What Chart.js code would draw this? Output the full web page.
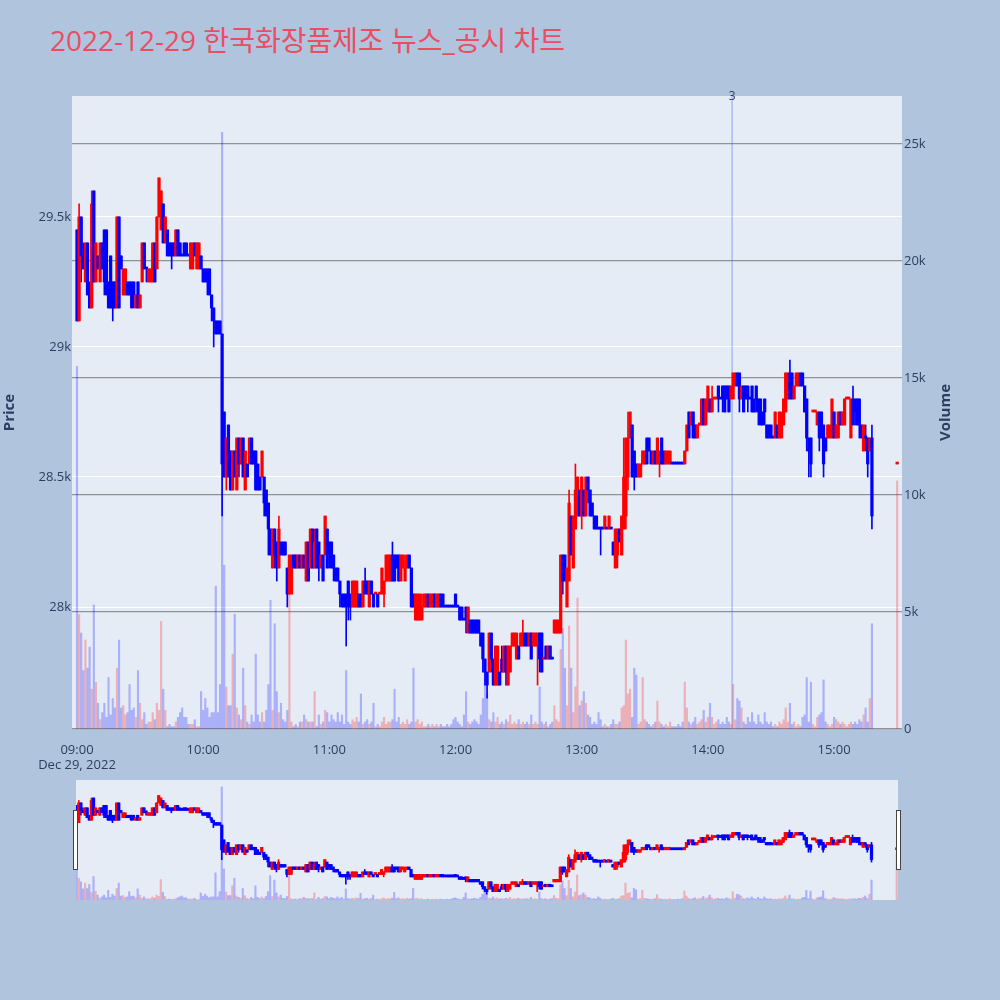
<!DOCTYPE html>
<html lang="ko">
<head>
<meta charset="utf-8">
<title>한국화장품제조 뉴스_공시 차트</title>
<script src="https://cdn.jsdelivr.net/npm/chart.js@4.4.0/dist/chart.umd.min.js"></script>
<style>
    body { margin: 0; width: 1000px; height: 1000px; background: #b0c4de; position: relative; overflow: hidden; font-family: "Open Sans", "Noto Sans CJK KR", sans-serif; }
    #chartTitle { position: absolute; left: 50px; top: 23px; font-size: 28px; line-height: 34px; color: rgb(233, 78, 98); white-space: nowrap; }
    #priceChart { position: absolute; left: 0; top: 0; }
    #sliderChart { position: absolute; left: 76px; top: 780px; }
    .handle { position: absolute; top: 810px; width: 3px; height: 58px; background: #fff; border: 1px solid #444; }
</style>
</head>
<body>
<div id="chartTitle">2022-12-29 한국화장품제조 뉴스_공시 차트</div>
<canvas id="priceChart" width="1000" height="775"></canvas>
<canvas id="sliderChart" width="822" height="120"></canvas>
<div class="handle" style="left:73px"></div>
<div class="handle" style="left:896px"></div>
<script>
// ==================================================================
// 1. DADOS (1분봉, 09:00 부터 연속, 마지막 값은 15:30 동시호가)
// ==================================================================
const opens = [
    29450,29100,29500,29350,29250,29400,29200,29150,29600,29250,
    29350,29250,29400,29450,29450,29250,29350,29250,29250,29150,
    29500,29350,29200,29200,29250,29250,29250,29250,29150,29250,
    29150,29250,29400,29300,29250,29250,29250,29400,29300,29500,
    29450,29550,29400,29450,29400,29400,29400,29350,29450,29400,
    29350,29400,29400,29350,29300,29300,29400,29300,29300,29350,
    29300,29300,29300,29300,29200,29150,29100,29100,29100,29050,
    28750,28500,28700,28600,28450,28600,28450,28650,28550,28650,
    28450,28550,28550,28650,28600,28600,28550,28500,28500,28500,
    28450,28400,28300,28150,28300,28250,28150,28250,28250,28250,
    28150,28050,28050,28200,28200,28150,28200,28150,28200,28100,
    28250,28150,28300,28150,28300,28250,28150,28200,28200,28300,
    28250,28250,28200,28150,28150,28100,28050,28050,28050,28100,
    28050,28000,28000,28000,28050,28050,28000,28100,28100,28000,
    28100,28050,28050,28050,28050,28050,28050,28100,28100,28100,
    28200,28200,28200,28200,28100,28150,28100,28150,28200,28150,
    28050,27950,27950,27950,27950,28000,28000,28050,28000,28000,
    28050,28000,28000,28050,28050,28000,28000,28000,28000,28000,
    28050,28000,28000,28000,27950,28000,27900,27950,27950,27950,
    27950,27950,27900,27900,27800,27750,27750,27900,27800,27700,
    27700,27750,27800,27750,27850,27700,27750,27850,27850,27800,
    27850,27850,27850,27900,27900,27850,27900,27850,27850,27850,
    27900,27900,27800,27850,27800,27850,27800,27900,27900,27900,
    27900,28200,28200,28000,28100,28350,28150,28300,28350,28450,
    28350,28450,28350,28500,28450,28400,28350,28350,28300,28300,
    28300,28300,28300,28300,28300,28250,28150,28200,28300,28200,
    28300,28350,28500,28650,28700,28600,28550,28500,28500,28550,
    28550,28650,28650,28600,28550,28600,28550,28550,28650,28600,
    28550,28550,28550,28550,28550,28550,28550,28550,28550,28550,
    28600,28750,28700,28750,28700,28650,28700,28700,28800,28700,
    28750,28800,28750,28800,28800,28850,28800,28850,28850,28850,
    28850,28800,28800,28850,28900,28900,28800,28850,28850,28850,
    28800,28850,28800,28850,28800,28800,28750,28800,28700,28700,
    28700,28650,28650,28700,28650,28650,28700,28750,28800,28900,
    28900,28800,28850,28850,28900,28900,28850,28800,28650,28650,
    28750,28750,28700,28750,28750,28700,28650,28650,28650,28650,
    28750,28650,28650,28750,28700,28700,28800,28800,28650,28800,
    28800,28800,28800,28700,28600,28650,28650,28600,28650,
    28550
];
const highs = [
    29450,29550,29500,29400,29400,29400,29250,29600,29600,29400,
    29350,29400,29400,29450,29450,29250,29350,29250,29250,29500,
    29500,29350,29300,29300,29250,29250,29250,29250,29200,29250,
    29200,29400,29400,29300,29300,29300,29400,29400,29500,29650,
    29600,29550,29500,29450,29400,29400,29400,29450,29450,29400,
    29350,29400,29400,29350,29400,29400,29400,29400,29400,29350,
    29300,29300,29300,29300,29200,29150,29100,29100,29100,29050,
    28750,28650,28700,28600,28600,28600,28650,28650,28650,28650,
    28600,28550,28650,28650,28600,28600,28550,28500,28600,28500,
    28450,28400,28300,28300,28300,28250,28350,28250,28250,28250,
    28150,28200,28200,28200,28200,28200,28200,28200,28200,28250,
    28250,28300,28300,28300,28300,28250,28200,28200,28350,28300,
    28250,28250,28200,28150,28150,28100,28050,28050,28050,28100,
    28050,28100,28100,28100,28050,28050,28100,28150,28100,28100,
    28100,28050,28050,28050,28050,28150,28100,28200,28200,28200,
    28250,28200,28200,28200,28200,28200,28200,28200,28200,28150,
    28050,28050,28050,28050,28050,28050,28050,28050,28050,28050,
    28050,28050,28050,28050,28050,28000,28000,28000,28000,28000,
    28050,28000,28000,28000,27950,28000,28000,27950,27950,27950,
    27950,27950,27900,27900,27800,27750,27900,27900,27800,27850,
    27850,27750,27850,27850,27850,27850,27850,27900,27900,27900,
    27850,27900,27950,27900,27900,27900,27900,27900,27900,27900,
    27900,27900,27800,27850,27850,27850,27800,27950,27950,27950,
    28200,28200,28200,28150,28450,28350,28350,28550,28500,28450,
    28500,28450,28500,28500,28450,28400,28350,28350,28300,28300,
    28300,28350,28300,28350,28300,28250,28300,28300,28300,28350,
    28650,28650,28750,28750,28700,28600,28550,28550,28550,28600,
    28600,28650,28650,28600,28600,28600,28650,28600,28650,28600,
    28600,28600,28600,28550,28550,28550,28550,28550,28550,28600,
    28700,28750,28750,28750,28700,28700,28700,28800,28800,28800,
    28850,28800,28850,28800,28800,28850,28800,28850,28850,28850,
    28850,28850,28900,28900,28900,28900,28850,28850,28850,28850,
    28800,28850,28800,28850,28800,28800,28750,28800,28700,28700,
    28700,28650,28750,28700,28750,28750,28800,28900,28900,28950,
    28900,28850,28900,28900,28900,28900,28850,28800,28650,28650,
    28750,28750,28750,28750,28750,28700,28650,28700,28700,28800,
    28750,28700,28750,28750,28750,28800,28800,28800,28800,28850,
    28800,28800,28800,28700,28700,28700,28650,28650,28700,
    28550
];
const lows = [
    29100,29100,29250,29300,29250,29200,29150,29150,29250,29250,
    29300,29250,29300,29200,29200,29150,29150,29100,29150,29150,
    29150,29300,29200,29200,29200,29200,29150,29150,29150,29150,
    29150,29250,29300,29250,29250,29250,29250,29250,29300,29500,
    29450,29400,29400,29350,29350,29300,29350,29350,29350,29350,
    29350,29350,29350,29350,29300,29300,29350,29300,29300,29300,
    29250,29250,29200,29200,29100,29000,29050,29050,29050,28350,
    28500,28450,28500,28450,28450,28500,28450,28500,28550,28500,
    28450,28500,28550,28550,28550,28450,28450,28450,28500,28350,
    28350,28200,28200,28150,28150,28100,28150,28200,28200,28200,
    28000,28050,28050,28150,28150,28150,28150,28150,28150,28100,
    28100,28150,28150,28150,28150,28100,28150,28100,28200,28150,
    28150,28150,28100,28100,28100,28000,28000,28000,27850,27950,
    27950,28000,28000,28000,28000,28000,28000,28050,28050,28000,
    28050,28000,28050,28000,28050,28050,28000,28100,28100,28100,
    28100,28100,28150,28100,28100,28150,28100,28150,28150,28000,
    28000,27950,27950,27950,27950,28000,28000,28000,28000,28000,
    28000,28000,28000,28000,28000,28000,28000,28000,28000,28000,
    28000,28000,27950,27950,27950,27900,27900,27900,27900,27900,
    27900,27900,27850,27750,27700,27650,27750,27750,27700,27700,
    27700,27700,27750,27750,27700,27700,27750,27850,27850,27800,
    27800,27850,27850,27850,27850,27850,27800,27850,27850,27700,
    27750,27750,27800,27800,27800,27800,27800,27900,27900,27900,
    27900,28050,28100,28000,28100,28200,28150,28300,28350,28350,
    28300,28350,28350,28400,28350,28350,28300,28300,28300,28200,
    28300,28300,28300,28300,28300,28200,28150,28150,28250,28200,
    28300,28300,28450,28650,28500,28450,28500,28500,28500,28550,
    28550,28550,28600,28550,28550,28550,28550,28500,28550,28550,
    28550,28550,28550,28550,28550,28550,28550,28550,28550,28550,
    28600,28650,28700,28650,28650,28650,28700,28700,28700,28700,
    28750,28750,28750,28800,28800,28750,28800,28750,28750,28800,
    28750,28800,28800,28850,28850,28750,28800,28750,28800,28750,
    28800,28750,28750,28750,28700,28700,28700,28700,28650,28650,
    28650,28650,28650,28650,28650,28650,28700,28750,28800,28800,
    28800,28800,28850,28850,28850,28850,28750,28600,28500,28500,
    28750,28750,28700,28600,28650,28500,28600,28650,28650,28650,
    28650,28650,28650,28700,28700,28700,28800,28800,28650,28700,
    28700,28700,28650,28650,28600,28600,28500,28600,28300,
    28550
];
const closes = [
    29100,29500,29350,29300,29400,29200,29150,29550,29250,29400,
    29300,29400,29300,29250,29200,29150,29150,29150,29150,29500,
    29150,29300,29300,29300,29200,29200,29150,29200,29200,29150,
    29200,29400,29300,29300,29300,29300,29400,29250,29500,29650,
    29600,29400,29500,29350,29350,29350,29350,29450,29350,29350,
    29350,29350,29350,29350,29400,29400,29350,29400,29400,29300,
    29250,29250,29250,29200,29150,29100,29050,29050,29050,28550,
    28500,28650,28500,28450,28600,28500,28650,28550,28650,28500,
    28600,28500,28650,28550,28550,28450,28450,28450,28600,28400,
    28350,28300,28200,28300,28200,28150,28300,28200,28200,28200,
    28050,28200,28200,28150,28150,28200,28150,28200,28150,28250,
    28100,28300,28150,28250,28150,28150,28200,28100,28350,28150,
    28200,28150,28150,28100,28100,28050,28000,28000,28000,28000,
    28000,28100,28100,28100,28000,28000,28100,28050,28050,28100,
    28050,28000,28050,28000,28050,28150,28100,28200,28200,28200,
    28100,28100,28150,28100,28200,28200,28150,28200,28150,28000,
    28000,28050,28050,28050,28000,28050,28050,28000,28050,28050,
    28000,28050,28050,28000,28000,28000,28000,28000,28000,28000,
    28000,28000,27950,27950,27950,27950,28000,27900,27900,27900,
    27900,27900,27850,27800,27750,27700,27900,27800,27700,27850,
    27850,27700,27750,27850,27750,27850,27850,27900,27900,27900,
    27800,27900,27900,27850,27850,27900,27800,27900,27900,27900,
    27800,27750,27800,27800,27850,27800,27800,27950,27950,27950,
    28200,28100,28100,28150,28400,28200,28350,28450,28500,28350,
    28500,28350,28500,28450,28350,28350,28300,28300,28300,28300,
    28300,28350,28300,28350,28300,28200,28300,28300,28250,28350,
    28500,28650,28650,28750,28500,28500,28500,28550,28550,28600,
    28600,28550,28600,28550,28600,28550,28650,28600,28550,28550,
    28600,28600,28600,28550,28550,28550,28550,28550,28550,28600,
    28700,28650,28750,28650,28650,28700,28700,28800,28700,28800,
    28850,28750,28800,28800,28800,28800,28800,28800,28750,28800,
    28750,28850,28900,28900,28850,28800,28850,28750,28800,28800,
    28800,28750,28750,28800,28750,28700,28700,28750,28650,28650,
    28650,28650,28750,28650,28750,28700,28800,28900,28900,28800,
    28800,28850,28900,28900,28850,28850,28750,28650,28600,28550,
    28750,28750,28750,28650,28650,28550,28600,28700,28700,28800,
    28650,28700,28750,28700,28750,28800,28800,28800,28800,28700,
    28750,28700,28700,28650,28700,28650,28550,28650,28350,
    28550
];
const volumes = [
    15500,4900,4100,2500,3800,2600,3500,1700,5300,2000,
    1100,400,700,1100,500,2200,600,1300,900,2600,
    3800,900,1000,600,700,1900,800,900,500,2500,
    1100,400,700,200,300,300,700,400,1100,800,
    4600,1700,800,100,200,100,100,300,500,700,
    900,500,500,200,200,200,400,100,100,1600,
    800,1300,900,500,700,700,6100,700,1900,25500,
    7000,1800,1000,1000,3200,4900,900,600,400,2600,
    1000,300,200,600,300,3200,600,300,700,300,
    800,1900,5500,800,4500,1600,700,1100,400,300,
    800,6900,300,100,200,100,300,300,600,400,
    300,300,300,1600,100,600,200,300,800,700,
    300,600,400,300,700,300,600,200,2500,300,
    200,400,300,500,300,1500,200,300,400,200,
    300,1100,100,200,100,300,500,200,300,300,
    400,1700,300,500,200,300,200,400,200,300,
    2600,300,400,200,300,100,100,200,100,200,
    100,200,100,200,100,100,200,100,200,400,
    500,300,200,100,600,1600,300,200,300,400,
    300,200,600,1300,2400,1500,400,300,700,300,
    500,200,300,200,400,300,600,200,300,200,
    400,200,300,200,300,200,600,200,300,200,
    1800,300,200,300,100,200,300,1000,400,300,
    3400,4300,2600,1000,4400,2600,700,1800,5600,1000,
    1200,1600,1100,600,500,200,300,200,700,400,
    100,200,100,100,200,400,200,200,300,900,
    1000,3800,1500,1700,500,2600,2300,200,300,2200,
    400,300,200,100,200,300,1200,300,200,100,
    200,100,300,100,100,100,200,100,300,2000,
    900,300,200,300,500,200,300,400,800,300,
    500,1100,500,200,300,400,200,300,200,500,
    300,200,1900,400,1300,1200,900,300,200,500,
    300,700,300,200,600,300,200,700,300,200,
    300,100,200,100,300,200,400,900,300,1100,
    200,300,100,200,100,500,600,2200,300,2000,
    200,100,500,600,700,2100,300,200,100,200,
    500,400,300,200,300,200,100,200,300,200,
    300,200,400,300,600,900,300,1300,4500,
    10600
];
const auctionMinute = 390;          // 15:30 동시호가 (09:00 기준 분)
const tickMinutes = [0, 60, 120, 180, 240, 300, 360];
const tickLabels = ['09:00', '10:00', '11:00', '12:00', '13:00', '14:00', '15:00'];
const dateLabel = 'Dec 29, 2022';
const priceTicks = [28000, 28500, 29000, 29500];
const priceTickLabels = ['28k', '28.5k', '29k', '29.5k'];
const volumeTicks = [0, 5000, 10000, 15000, 20000, 25000];
const volumeTickLabels = ['0', '5k', '10k', '15k', '20k', '25k'];
const newsMinutes = [311.5];
const newsCounts = ['3'];

[highs, lows, closes, volumes].forEach(arr => {
    if (arr.length !== opens.length) throw new Error('length mismatch ' + arr.length + ' vs ' + opens.length);
});

// ==================================================================
// 2. CORES / POSIÇÕES
// ==================================================================
const xs = opens.map((_, i) => i < opens.length - 1 ? i : auctionMinute);
const dirs = [];
closes.forEach((c, i) => {
    const o = opens[i];
    if (c > o) dirs.push(1);
    else if (c < o) dirs.push(-1);
    else if (i > 0 && c > closes[i - 1]) dirs.push(1);
    else if (i > 0 && c < closes[i - 1]) dirs.push(-1);
    else dirs.push(i > 0 ? dirs[i - 1] : -1);
});
const candleColors = dirs.map(d => d > 0 ? '#ff0000' : '#0000ff');
const volumeColors = dirs.map(d => d > 0 ? 'rgba(255,0,0,0.25)' : 'rgba(0,0,255,0.25)');

const PRICE_MIN = 27531, PRICE_MAX = 29965, VOL_MAX = 27050;
const textColor = '#2a3f5f';
const tickFont = { family: '"Open Sans", sans-serif', size: 13 };

function buildDatasets(bodyW, wickW, volW) {
    return [
        { type: 'bar', data: xs.map((x, i) => ({ x: x, y: [opens[i], closes[i]] })), backgroundColor: candleColors,
          barThickness: bodyW, minBarLength: 2, grouped: false, order: 1, yAxisID: 'y' },
        { type: 'bar', data: xs.map((x, i) => ({ x: x, y: [lows[i], highs[i]] })), backgroundColor: candleColors,
          barThickness: wickW, grouped: false, order: 2, yAxisID: 'y' },
        { type: 'bar', data: xs.map((x, i) => ({ x: x, y: volumes[i] })), backgroundColor: volumeColors,
          barThickness: volW, grouped: false, order: 5, yAxisID: 'y2' }
    ];
}

const plotBackground = {
    id: 'plotBackground',
    beforeDraw(chart) {
        const a = chart.chartArea, c = chart.ctx;
        c.save();
        c.fillStyle = '#e5ecf6';
        c.fillRect(a.left, a.top, a.right - a.left, a.bottom - a.top);
        c.restore();
    }
};

// rótulos dos eixos (ambos girados -90 como no plotly) + contagem de notícias
const axisTitles = {
    id: 'axisTitles',
    afterDraw(chart) {
        const c = chart.ctx, a = chart.chartArea;
        const midY = (a.top + a.bottom) / 2;
        c.save();
        c.fillStyle = textColor;
        c.font = 'bold 15px "Open Sans", sans-serif';
        c.textAlign = 'center';
        c.textBaseline = 'middle';
        [['Price', 10], ['Volume', 946]].forEach(([t, x]) => {
            c.save();
            c.translate(x, midY);
            c.rotate(-Math.PI / 2);
            c.fillText(t, 0, 0);
            c.restore();
        });
        c.font = '12px "Open Sans", sans-serif';
        newsMinutes.forEach((m, i) => {
            c.fillText(newsCounts[i], chart.scales.x.getPixelForValue(m), a.top + 1);
        });
        c.restore();
    }
};

// ==================================================================
// 3. GRÁFICO PRINCIPAL
// ==================================================================
const mainDatasets = buildDatasets(2.6, 1, 1.5);
newsMinutes.forEach(m => {
    mainDatasets.push({ type: 'line', data: [{ x: m, y: PRICE_MIN }, { x: m, y: PRICE_MAX }], borderColor: 'rgba(65,105,225,0.55)',
        borderWidth: 1, pointRadius: 0, order: 3, yAxisID: 'y' });
});

new Chart(document.getElementById('priceChart').getContext('2d'), {
    type: 'bar',
    data: { datasets: mainDatasets },
    options: {
        responsive: false, animation: false,
        layout: { padding: { top: 96, left: 0, right: 0, bottom: 0 } },
        plugins: { legend: { display: false }, tooltip: { enabled: false } },
        scales: {
            x: {
                type: 'linear', min: -2.38, max: 392.3, offset: false,
                grid: { display: false }, border: { display: false },
                afterBuildTicks: s => { s.ticks = tickMinutes.map(v => ({ value: v })); },
                afterFit: s => { s.height = 46; },
                ticks: {
                    color: textColor, font: tickFont, padding: 5, maxRotation: 0, autoSkip: false,
                    callback: v => {
                        const label = tickLabels[tickMinutes.indexOf(v)];
                        return v === 0 ? [label, dateLabel] : label;
                    }
                }
            },
            y: {
                position: 'left', min: PRICE_MIN, max: PRICE_MAX,
                grid: { color: '#ffffff', lineWidth: 1, drawTicks: false }, border: { display: false },
                afterBuildTicks: s => { s.ticks = priceTicks.map(v => ({ value: v })); },
                afterFit: s => { s.width = 72; },
                ticks: { color: textColor, font: tickFont, padding: 1, callback: v => priceTickLabels[priceTicks.indexOf(v)] }
            },
            y2: {
                position: 'right', min: 0, max: VOL_MAX,
                grid: { color: '#929292', lineWidth: 1.2, drawTicks: false }, border: { display: false },
                afterBuildTicks: s => { s.ticks = volumeTicks.map(v => ({ value: v })); },
                afterFit: s => { s.width = 98; },
                ticks: { color: textColor, font: tickFont, padding: 2, callback: v => volumeTickLabels[volumeTicks.indexOf(v)] }
            }
        }
    },
    plugins: [plotBackground, axisTitles]
});

// ==================================================================
// 4. RANGE SLIDER (miniatura)
// ==================================================================
new Chart(document.getElementById('sliderChart').getContext('2d'), {
    type: 'bar',
    data: { datasets: buildDatasets(2.6, 1, 1.5) },
    options: {
        responsive: false, animation: false,
        layout: { padding: 0 },
        plugins: { legend: { display: false }, tooltip: { enabled: false } },
        scales: {
            x: { type: 'linear', min: -0.33, max: 390.6, offset: false, display: false },
            y: { min: PRICE_MIN, max: PRICE_MAX, display: false },
            y2: { position: 'right', min: 0, max: VOL_MAX, display: false }
        }
    },
    plugins: [plotBackground]
});
</script>
</body>
</html>
